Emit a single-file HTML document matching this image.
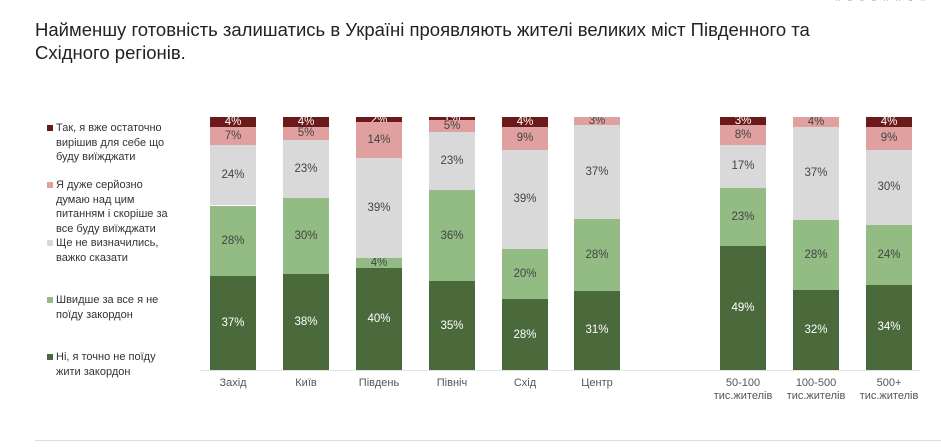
<!DOCTYPE html>
<html><head><meta charset="utf-8"><style>
body{margin:0;width:941px;height:447px;background:#fff;position:relative;overflow:hidden;font-family:"Liberation Sans","DejaVu Sans",sans-serif}
.t{position:absolute;left:35px;top:18px;font-size:18.5px;line-height:23px;color:#222}
.lg{position:absolute;left:56px;font-size:11px;line-height:14.5px;color:#333}
.lg i{position:absolute;left:-9px;top:4px;width:6px;height:6px}
.s{position:absolute;display:flex;align-items:center;justify-content:center;font-size:11.5px;color:#444;overflow:hidden}
.x{position:absolute;top:377px;font-size:11px;line-height:13px;color:#555;text-align:center;width:90px}
</style></head><body>
<div class="t">Найменшу готовність залишатись в Україні проявляють жителі великих міст Південного та<br>Східного регіонів.</div>
<div style="position:absolute;right:8px;top:-3px;font-size:6px;letter-spacing:8px;color:#999">RESEARCH</div>
<div class="lg" style="top:121px"><i style="background:#6b1a1a"></i>Так, я вже остаточно<br>вирішив для себе що<br>буду виїжджати</div>
<div class="lg" style="top:178px"><i style="background:#e0a0a0"></i>Я дуже серйозно<br>думаю над цим<br>питанням і скоріше за<br>все буду виїжджати</div>
<div class="lg" style="top:236px"><i style="background:#d9d9d9"></i>Ще не визначились,<br>важко сказати</div>
<div class="lg" style="top:293px"><i style="background:#93bb84"></i>Швидше за все я не<br>поїду закордон</div>
<div class="lg" style="top:350px"><i style="background:#4a6a3c"></i>Ні, я точно не поїду<br>жити закордон</div>
<div style="position:absolute;left:200px;top:370px;width:720px;height:1px;background:#e3e3e3"></div>
<div style="position:absolute;left:35px;top:440px;width:906px;height:1px;background:#ddd"></div>
<div id="c"></div>
<script>
var bars=[
[210,"Захід",[37,28,24,7,4]],[283,"Київ",[38,30,23,5,4]],[356,"Південь",[40,4,39,14,2]],
[429,"Північ",[35,36,23,5,1]],[502,"Схід",[28,20,39,9,4]],[574,"Центр",[31,28,37,3,0]],
[720,"50-100<br>тис.жителів",[49,23,17,8,3]],[793,"100-500<br>тис.жителів",[32,28,37,4,0]],[866,"500+<br>тис.жителів",[34,24,30,9,4]]];
var col=["#4a6a3c","#93bb84","#d9d9d9","#e0a0a0","#6b1a1a"];
var h="";
bars.forEach(function(b){var sum=b[2].reduce(function(a,c){return a+c},0);var y=370;
b[2].forEach(function(v,i){var hh=v/sum*253;y-=hh;
h+='<div class="s" style="left:'+b[0]+'px;top:'+y.toFixed(1)+'px;width:46px;height:'+hh.toFixed(1)+'px;background:'+col[i]+';color:'+(i==0||i==4?'#fff':'#444')+'">'+(v>0?v+'%':'')+'</div>';});
h+='<div class="x" style="left:'+(b[0]-22)+'px">'+b[1]+'</div>';});
document.getElementById("c").innerHTML=h;
</script>
</body></html>
